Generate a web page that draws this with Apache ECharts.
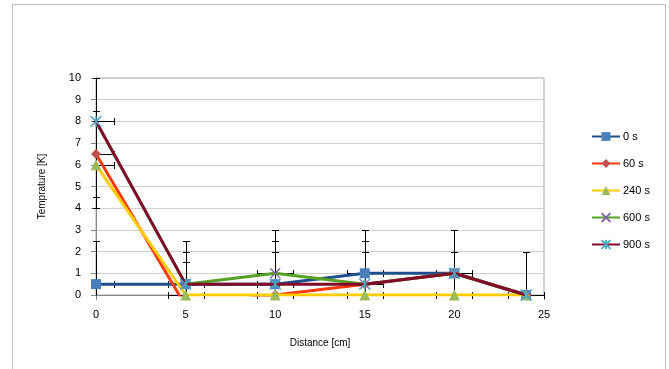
<!DOCTYPE html>
<html>
<head>
<meta charset="utf-8">
<script src="https://cdn.jsdelivr.net/npm/echarts@6/dist/echarts.min.js"></script>
<style>html,body{margin:0;padding:0;background:#fff;}#c{width:669px;height:369px;}</style>
</head>
<body>
<div id="c"></div>
<script>
var distances = [0, 5, 10, 15, 20, 24];
var seriesNames = ['0 s', '60 s', '240 s', '600 s', '900 s'];
var t0 = [0.5, 0.5, 0.5, 1, 1, 0];
var t60 = [6.5, -0.5, 0, 0.5, 1, 0];
var t240 = [6, 0, 0, 0, 0, 0];
var t600 = [8, 0.5, 1, 0.5, 1, 0];
var t900 = [8, 0.5, 0.5, 0.5, 1, 0];
var yError = 2;
var xError = 1;
var xTicks = [0, 5, 10, 15, 20, 25];
var yTicks = [0, 1, 2, 3, 4, 5, 6, 7, 8, 9, 10];

var allValues = [t0, t60, t240, t600, t900];
var lineColors = ['#1F4E8C', '#FF3A0A', '#FFCC00', '#55A125', '#7F0A2A'];
var markerColors = ['#4A7EBB', '#C0504D', '#9BBB59', '#8064A2', '#4BACC6'];
var symbols = [
  'rect',
  'diamond',
  'triangle',
  'path://M0,0L10,10M10,0L0,10',
  'path://M5,0L5,10M0,0L10,10M10,0L0,10'
];
var symbolSizes = [10, 10, 11, 10, 11];

function pairs(vals) {
  return distances.map(function (d, i) { return [d, vals[i]]; });
}

var errData = [];
allValues.forEach(function (vals) {
  distances.forEach(function (d, i) { errData.push([d, vals[i], xError, yError]); });
});

var XMIN = 0, XMAX = 25, YMIN = 0, YMAX = 10;
function clamp(v, a, b) { return Math.max(a, Math.min(b, v)); }
function r(v) { return Math.round(v) + 0.5; }

var series = [];
series.push({
  type: 'custom',
  name: 'err',
  z: 1,
  silent: true,
  data: errData,
  encode: { x: 0, y: 1 },
  renderItem: function (params, api) {
    var x = api.value(0), y = api.value(1), ex = api.value(2), ey = api.value(3);
    var children = [];
    var cap = 3.5;
    var st = { stroke: '#000', lineWidth: 1 };
    if (x >= XMIN && x <= XMAX) {
      var y1 = y - ey, y2 = y + ey;
      var cy1 = clamp(y1, YMIN, YMAX), cy2 = clamp(y2, YMIN, YMAX);
      if (cy2 > cy1) {
        var p1 = api.coord([x, cy1]), p2 = api.coord([x, cy2]);
        var px = r(p1[0]);
        children.push({ type: 'line', shape: { x1: px, y1: r(p1[1]), x2: px, y2: r(p2[1]) }, style: st });
        if (y1 >= YMIN) children.push({ type: 'line', shape: { x1: px - cap, y1: r(p1[1]), x2: px + cap, y2: r(p1[1]) }, style: st });
        if (y2 <= YMAX) children.push({ type: 'line', shape: { x1: px - cap, y1: r(p2[1]), x2: px + cap, y2: r(p2[1]) }, style: st });
      }
    }
    if (y >= YMIN && y <= YMAX) {
      var x1 = x - ex, x2 = x + ex;
      var cx1 = clamp(x1, XMIN, XMAX), cx2 = clamp(x2, XMIN, XMAX);
      if (cx2 > cx1) {
        var q1 = api.coord([cx1, y]), q2 = api.coord([cx2, y]);
        var py = r(q1[1]);
        children.push({ type: 'line', shape: { x1: r(q1[0]), y1: py, x2: r(q2[0]), y2: py }, style: st });
        if (x1 >= XMIN) children.push({ type: 'line', shape: { x1: r(q1[0]), y1: py - cap, x2: r(q1[0]), y2: py + cap }, style: st });
        if (x2 <= XMAX) children.push({ type: 'line', shape: { x1: r(q2[0]), y1: py - cap, x2: r(q2[0]), y2: py + cap }, style: st });
      }
    }
    return { type: 'group', children: children };
  }
});

allValues.forEach(function (vals, k) {
  series.push({
    type: 'line',
    name: seriesNames[k],
    data: pairs(vals),
    z: 2 + k,
    clip: true,
    symbol: symbols[k],
    symbolSize: symbolSizes[k],
    showAllSymbol: true,
    lineStyle: { color: lineColors[k], width: 3 },
    itemStyle: { color: markerColors[k], borderColor: markerColors[k], borderWidth: (k >= 3 ? 1.3 : 0) },
    emphasis: { disabled: true },
    animation: false
  });
});

var chart = echarts.init(document.getElementById('c'), null, { renderer: 'canvas' });
var FONT = 'Liberation Sans';
chart.setOption({
  backgroundColor: '#fff',
  animation: false,
  textStyle: { fontFamily: FONT },
  graphic: [{
    type: 'rect', shape: { x: 12.5, y: 4.5, width: 653, height: 400 },
    style: { fill: 'none', stroke: '#BFBFBF', lineWidth: 1 }, silent: true, z: -1
  }],
  grid: { left: 96, right: 125, top: 78, bottom: 74, show: true, borderColor: '#A6A6A6', borderWidth: 1, backgroundColor: 'transparent' },
  legend: {
    orient: 'vertical', left: 586, top: 126, itemWidth: 28, itemHeight: 11, itemGap: 16,
    data: seriesNames,
    textStyle: { fontSize: 11, color: '#000', fontFamily: FONT, padding: [0, 0, 0, -2] }
  },
  xAxis: {
    type: 'value', min: XMIN, max: XMAX, interval: 5,
    name: 'Distance [cm]', nameLocation: 'middle', nameGap: 43,
    nameTextStyle: { fontSize: 10, color: '#000', fontFamily: FONT },
    axisLine: { show: true, lineStyle: { color: '#868686' } },
    axisTick: { show: true, inside: false, length: 5, lineStyle: { color: '#868686' } },
    axisLabel: { fontSize: 11, color: '#000', margin: 14, fontFamily: FONT,
      formatter: function (v) { return xTicks.indexOf(v) >= 0 ? String(v) : ''; } },
    splitLine: { show: false }
  },
  yAxis: {
    type: 'value', min: YMIN, max: YMAX, interval: 1,
    name: 'Temprature [K]', nameLocation: 'middle', nameGap: 49, nameRotate: 90,
    nameTextStyle: { fontSize: 10, color: '#000', fontFamily: FONT },
    axisLine: { show: true, lineStyle: { color: '#868686' } },
    axisTick: { show: true, inside: false, length: 5, lineStyle: { color: '#868686' } },
    axisLabel: { fontSize: 11, color: '#000', margin: 15, fontFamily: FONT,
      formatter: function (v) { return yTicks.indexOf(v) >= 0 ? String(v) : ''; } },
    splitLine: { show: true, lineStyle: { color: '#D0D0D0' } }
  },
  series: series
});
</script>
</body>
</html>
